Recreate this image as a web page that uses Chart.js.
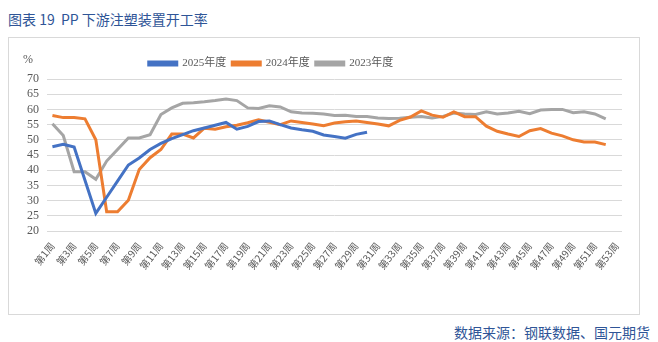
<!DOCTYPE html>
<html>
<head>
<meta charset="utf-8">
<script src="https://cdn.jsdelivr.net/npm/chart.js@4"></script>
<style>
    body { margin: 0; background: #ffffff; width: 658px; height: 342px; position: relative; overflow: hidden; }
    #title { position: absolute; left: 8px; top: 9px; font: 14px "Noto Sans CJK SC", sans-serif; color: #2f5597; white-space: nowrap; }
    #box { position: absolute; left: 8px; top: 37px; width: 632px; height: 278px; box-sizing: border-box; border: 1px solid #d9d9d9; }
    #chartCanvas { position: absolute; left: 9px; top: 38px; }
    #source { position: absolute; right: 8px; top: 322px; font: 14px "Noto Sans CJK SC", sans-serif; color: #2f5597; white-space: nowrap; }
</style>
</head>
<body>
<div id="title">图表 19&nbsp; PP 下游注塑装置开工率</div>
<div id="box"></div>
<canvas id="chartCanvas" width="630" height="276"></canvas>
<div id="source">数据来源：钢联数据、国元期货</div>
<script>
// week labels
var weeks = [];
for ( var i = 1; i <= 53; ++i ) {
    weeks.push( "第" + i + "周" );
}

var yTicks = [20, 25, 30, 35, 40, 45, 50, 55, 60, 65, 70];

var seriesNames = ["2025年度", "2024年度", "2023年度"];
var seriesColors = ["#4472c4", "#ed7d31", "#a5a5a5"];

var values2025 = [
    47.7, 48.5, 47.6, 36.7, 25.8, 31.1, 36.4, 41.7, 44.0, 46.8,
    48.8, 50.4, 51.7, 53.0, 53.9, 54.8, 55.7, 53.5, 54.4, 56.0,
    56.2, 55.0, 53.9, 53.3, 52.8, 51.6, 51.1, 50.5, 51.8, 52.5
];
var values2024 = [
    58.0, 57.3, 57.3, 56.9, 50.0, 26.3, 26.3, 30.1, 40.2, 44.1,
    46.8, 51.9, 51.9, 50.6, 53.8, 53.5, 54.3, 54.8, 55.6, 56.6,
    55.8, 55.0, 56.2, 55.7, 55.2, 54.6, 55.5, 55.9, 56.2, 55.7,
    55.2, 54.6, 56.4, 57.5, 59.5, 58.1, 57.4, 59.2, 57.6, 57.6,
    54.5, 52.8, 51.9, 51.1, 53.0, 53.7, 52.2, 51.3, 50.0, 49.3,
    49.3, 48.4
];
var values2023 = [
    55.3, 51.4, 39.5, 39.5, 37.0, 43.0, 46.8, 50.6, 50.6, 51.7,
    58.3, 60.5, 62.0, 62.2, 62.5, 62.9, 63.4, 62.9, 60.5, 60.3,
    61.2, 60.8, 59.2, 58.8, 58.7, 58.5, 58.0, 58.1, 57.7, 57.7,
    57.2, 57.0, 57.1, 57.4, 57.7, 57.2, 57.7, 58.8, 58.5, 58.3,
    59.2, 58.5, 58.8, 59.4, 58.6, 59.8, 60.0, 60.0, 58.9, 59.2,
    58.5, 56.9
];

var axisColor = "#595959";
var serifFont = "'Liberation Serif', 'Times New Roman', 'Noto Sans CJK SC', serif";

// "%" unit + nudge the legend to the left like the original
var extras = {
    id: "extras",
    afterLayout: function(chart) {
        var lg = chart.legend;
        var shift = 262 - (lg.left + lg.right) / 2;
        lg.left += shift;
        lg.right += shift;
    },
    afterDraw: function(chart) {
        var ctx = chart.ctx;
        ctx.save();
        ctx.font = "12px " + serifFont;
        ctx.fillStyle = axisColor;
        ctx.textAlign = "center";
        ctx.textBaseline = "middle";
        ctx.fillText( "%", 19, 22 );
        ctx.restore();
    }
};

function makeSet(idx, data) {
    return {
        label: seriesNames[idx],
        data: data,
        borderColor: seriesColors[idx],
        backgroundColor: seriesColors[idx],
        borderWidth: 3,
        pointRadius: 0,
        tension: 0,
        fill: false
    };
}

var ctx = document.getElementById("chartCanvas").getContext("2d");
var myChart = new Chart(ctx, {
    type: "line",
    data: {
        labels: weeks,
        datasets: [
            makeSet(0, values2025),
            makeSet(1, values2024),
            makeSet(2, values2023)
        ]
    },
    options: {
        responsive: false,
        animation: false,
        devicePixelRatio: 1,
        layout: { padding: { left: 0, right: 17, top: 14, bottom: 0 } },
        plugins: {
            legend: {
                position: "top",
                labels: {
                    boxWidth: 28,
                    boxHeight: 3,
                    padding: 6,
                    color: axisColor,
                    font: { size: 11, family: serifFont }
                }
            },
            tooltip: { enabled: false }
        },
        scales: {
            x: {
                type: "category",
                offset: true,
                grid: { display: false, drawTicks: false },
                border: { display: false },
                ticks: {
                    autoSkip: false,
                    maxRotation: 52,
                    minRotation: 52,
                    padding: 9,
                    color: axisColor,
                    font: { size: 10, family: "'Noto Sans CJK SC', sans-serif" },
                    callback: function(value, index) {
                        return index % 2 === 0 ? weeks[index] : "";
                    }
                },
                afterFit: function(scale) { scale.height = 83; }
            },
            y: {
                min: yTicks[0],
                max: yTicks[yTicks.length - 1],
                grid: { color: "#d9d9d9", lineWidth: 1, drawTicks: false },
                border: { display: false },
                afterBuildTicks: function(scale) {
                    scale.ticks = yTicks.map(function(v) { return { value: v }; });
                },
                ticks: {
                    stepSize: 5,
                    autoSkip: false,
                    padding: 8,
                    color: axisColor,
                    font: { size: 12, family: serifFont }
                },
                afterFit: function(scale) { scale.width = 38; }
            }
        }
    },
    plugins: [extras]
});
</script>
</body>
</html>
